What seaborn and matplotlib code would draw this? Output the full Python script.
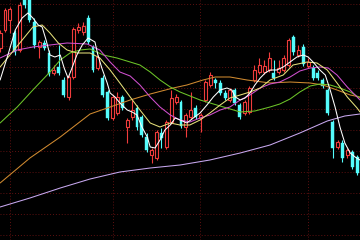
import numpy as np
import pandas as pd
import matplotlib
matplotlib.use("Agg")
import matplotlib.pyplot as plt
import seaborn as sns

# ---- candle data (price units) ----
opens = [29.2, 31.0, 32.0, 30.7, 29.0, 34.2, 34.0, 31.8, 29.3, 29.7,
         28.7, 26.7, 27.3, 26.0, 24.3, 26.3, 31.0, 30.8, 32.2, 29.3,
         27.2, 26.2, 24.8, 22.2, 22.7, 24.3, 21.3, 22.3, 23.2, 22.3,
         20.3, 18.5, 18.2, 20.7, 19.3, 21.8, 23.8, 23.8, 21.3, 22.3,
         23.2, 22.2, 24.0, 25.5, 26.0, 25.7, 24.7, 24.0, 25.0, 23.5,
         22.7, 22.8, 26.0, 26.8, 26.8, 27.0, 26.7, 26.8, 27.0, 27.5,
         30.3, 28.5, 29.3, 27.4, 27.2, 26.7, 26.0, 25.0, 21.8, 19.3,
         19.7, 18.5, 18.8, 18.3]
closes = [30.7, 33.0, 33.1, 28.8, 33.5, 33.5, 32.0, 29.5, 29.8, 29.2,
          26.6, 27.0, 26.7, 24.5, 26.3, 31.1, 31.3, 31.4, 29.8, 27.0,
          28.3, 24.5, 22.2, 24.3, 24.3, 23.2, 22.0, 23.0, 21.3, 20.5,
          19.0, 19.0, 20.8, 20.2, 21.8, 24.2, 24.3, 21.4, 22.5, 23.0,
          22.3, 22.5, 25.8, 26.5, 25.7, 24.7, 24.2, 25.0, 23.7, 22.3,
          23.8, 25.2, 27.0, 27.5, 27.4, 28.2, 26.2, 27.2, 28.2, 30.0,
          28.8, 29.0, 27.6, 27.8, 26.2, 26.2, 25.4, 22.7, 19.2, 19.8,
          18.2, 19.0, 17.3, 16.7]
highs = [31.0, 33.2, 33.3, 31.0, 33.8, 34.5, 34.3, 32.2, 30.0, 30.0,
         29.0, 27.5, 29.5, 26.3, 26.5, 31.3, 31.7, 31.8, 32.5, 29.5,
         28.5, 26.5, 25.0, 24.5, 24.8, 24.5, 22.2, 24.0, 23.5, 22.5,
         20.7, 19.2, 21.0, 21.2, 22.0, 25.0, 24.6, 24.0, 22.7, 24.8,
         23.5, 22.7, 26.0, 26.8, 26.2, 26.0, 25.0, 25.2, 25.2, 23.7,
         24.0, 25.4, 27.5, 28.2, 28.0, 28.8, 28.0, 28.0, 28.5, 30.2,
         30.5, 29.5, 29.6, 28.2, 27.5, 27.0, 26.2, 25.2, 22.0, 20.0,
         20.0, 19.2, 19.0, 18.5]
lows = [28.8, 30.8, 30.7, 28.5, 28.8, 33.2, 31.8, 29.2, 28.2, 29.0,
        26.4, 26.5, 26.5, 24.3, 24.0, 26.1, 30.7, 30.5, 29.6, 26.8,
        27.0, 24.3, 22.0, 22.0, 22.5, 23.0, 19.7, 22.0, 21.0, 20.3,
        18.8, 17.7, 18.0, 19.2, 19.1, 21.6, 23.6, 21.2, 20.3, 22.1,
        22.1, 20.8, 23.8, 25.3, 25.2, 24.5, 24.0, 23.8, 23.5, 22.1,
        22.5, 22.6, 25.8, 26.6, 26.6, 26.8, 26.0, 26.6, 26.8, 27.3,
        28.5, 28.3, 27.4, 27.2, 26.0, 26.0, 25.2, 22.5, 18.2, 19.1,
        17.8, 18.2, 17.1, 16.5]

# ---- moving average lines (x = candle index, y = price) ----
ma5_x = [0.0, 1.6, 3.1, 4.5, 5.7, 6.7, 7.8, 8.6, 9.4, 10.2, 11.2, 12.3, 13.1, 13.9,
         14.7, 15.7, 16.8, 18.0, 19.4, 20.0, 20.8, 21.9, 22.5, 23.5, 24.5, 26.0,
         27.0, 28.0, 29.0, 30.1, 30.7, 31.7, 32.7, 33.7, 34.8, 35.8, 36.8, 38.2,
         39.5, 40.9, 42.3, 43.6, 45.0, 46.4, 47.4, 48.1, 49.1, 50.1, 51.1, 52.1,
         53.2, 54.2, 55.2, 56.6, 57.9, 59.3, 60.7, 62.0, 63.0, 64.0, 65.4, 66.5,
         67.5, 68.5, 69.5, 70.5, 71.6, 72.6, 73.6]
ma5_y = [26.0, 28.5, 31.0, 32.2, 32.7, 32.2, 31.5, 31.3, 30.0, 28.5, 28.3, 28.5, 27.2, 26.2,
         27.2, 28.5, 29.5, 30.2, 29.8, 28.5, 27.2, 25.7, 24.7, 24.3, 23.7, 23.0,
         22.8, 22.5, 21.3, 20.3, 19.3, 19.2, 20.0, 21.0, 21.5, 22.2, 22.0, 21.7,
         22.2, 22.7, 23.5, 24.3, 25.0, 25.2, 25.0, 24.3, 24.0, 24.2, 24.7, 25.5,
         26.2, 26.7, 27.0, 27.0, 27.3, 27.8, 28.3, 28.5, 28.3, 27.8, 27.0, 26.5,
         25.0, 23.3, 21.3, 19.7, 18.7, 18.3, 18.0]
ma10_x = [0.0, 6.7, 8.6, 10.2, 11.9, 13.7, 15.7, 18.4, 20.4, 22.5, 24.5, 26.6, 28.6,
          30.7, 32.7, 34.8, 36.8, 38.8, 40.9, 42.9, 45.0, 47.0, 49.1, 51.1, 53.2,
          55.2, 57.9, 59.9, 62.8, 64.8, 66.9, 68.9, 71.0, 73.0, 73.6]
ma10_y = [27.3, 31.3, 31.5, 30.7, 29.7, 29.0, 28.7, 28.7, 28.2, 27.0, 25.7, 24.3, 23.0,
          21.7, 21.3, 21.7, 21.5, 21.5, 22.0, 22.7, 23.5, 24.2, 24.5, 24.8, 25.2,
          26.0, 26.5, 27.5, 27.8, 27.7, 27.0, 25.7, 24.3, 23.2, 22.8]
ma20_x = [0.0, 3.5, 6.7, 13.7, 17.8, 20.4, 22.5, 24.5, 26.6, 28.6, 30.7, 32.7, 34.8,
          36.8, 38.8, 40.9, 42.9, 45.0, 47.0, 49.1, 51.1, 53.2, 55.2, 57.2, 59.3,
          61.3, 63.4, 65.4, 67.1, 68.9, 71.0, 73.6]
ma20_y = [28.2, 29.0, 29.3, 29.7, 29.6, 29.0, 27.8, 26.8, 26.4, 25.5, 24.3, 23.3, 22.5,
          22.0, 21.8, 22.2, 22.5, 23.0, 23.3, 24.0, 24.5, 25.2, 25.6, 25.8, 26.3,
          26.9, 27.2, 27.3, 27.2, 26.5, 25.3, 24.0]
ma30_x = [0.0, 3.5, 6.7, 10.2, 12.3, 14.3, 16.4, 18.4, 21.1, 23.9, 26.6, 28.6, 30.7,
          32.7, 34.8, 36.8, 40.9, 45.0, 49.1, 52.1, 55.2, 57.2, 59.3, 61.3, 63.4,
          65.4, 67.5, 69.5, 71.6, 73.6]
ma30_y = [21.7, 23.3, 25.0, 26.8, 28.0, 28.7, 29.0, 29.1, 28.5, 28.2, 27.8, 27.5, 26.8,
          26.0, 25.3, 24.8, 24.0, 23.4, 22.8, 22.9, 23.3, 23.6, 24.1, 24.8, 25.4,
          25.6, 25.5, 25.2, 24.8, 24.2]
ma60_x = [0.0, 6.1, 12.3, 18.4, 22.5, 26.6, 30.7, 35.4, 38.2, 41.5, 44.0, 47.0, 50.5,
          55.2, 59.3, 63.4, 66.0, 68.9, 71.6, 73.6]
ma60_y = [15.7, 18.2, 20.3, 22.6, 23.3, 24.0, 24.6, 25.2, 25.5, 26.0, 26.3, 26.3, 26.0,
          25.7, 25.8, 25.7, 25.5, 25.0, 24.5, 24.3]
ma250_x = [0.0, 6.1, 12.3, 18.4, 24.5, 30.7, 36.8, 42.9, 49.1, 55.2, 61.3, 66.9, 70.5, 73.6]
ma250_y = [13.3, 14.2, 15.2, 16.1, 16.8, 17.2, 17.5, 18.0, 18.7, 19.5, 20.7, 21.9, 22.4, 22.6]

grid_x = [2.0, 23.1, 40.9, 63.0]

RED = "#f03c3c"
CYAN = "#54fcfc"

sns.set_style("dark", {"axes.facecolor": "black", "figure.facecolor": "black"})

fig = plt.figure(figsize=(3.6, 2.4), dpi=100)
ax = fig.add_axes([0, 0, 1, 1])
ax.set_facecolor("black")

o = np.array(opens); c = np.array(closes)
h = np.array(highs); l = np.array(lows)
idx = np.arange(len(o))
up = c >= o
body_lo = np.minimum(o, c)
body_h = np.maximum(np.abs(c - o), 0.12)

ax.vlines(idx[up], l[up], h[up], colors=RED, linewidth=0.8, zorder=2)
ax.vlines(idx[~up], l[~up], h[~up], colors=CYAN, linewidth=0.8, zorder=2)
ax.bar(idx[up], body_h[up], bottom=body_lo[up], width=0.6,
       facecolor="black", edgecolor=RED, linewidth=0.8, zorder=3)
ax.bar(idx[~up], body_h[~up], bottom=body_lo[~up], width=0.6,
       facecolor=CYAN, edgecolor=CYAN, linewidth=0.3, zorder=3)

lines = [
    (ma250_x, ma250_y, "#c8a8f0"),
    (ma60_x, ma60_y, "#d08a30"),
    (ma30_x, ma30_y, "#6cc428"),
    (ma20_x, ma20_y, "#d050d0"),
    (ma10_x, ma10_y, "#e6e07a"),
    (ma5_x, ma5_y, "#ffffff"),
]
for xs, ys, col in lines:
    df = pd.DataFrame({"x": xs, "y": ys})
    sns.lineplot(data=df, x="x", y="y", color=col, linewidth=0.75, ax=ax,
                 sort=False, zorder=4)

ax.set_xlim(-0.02, 73.6)
ax.set_ylim(10, 34)
ax.set_xticks(grid_x)
ax.set_yticks(np.arange(10.5, 34.0, 2.1))
ax.grid(True, color="#5e1010", linestyle=(0, (1, 2)), linewidth=0.7)
ax.set_axisbelow(True)
ax.tick_params(length=0, labelbottom=False, labelleft=False)
ax.set_xlabel(""); ax.set_ylabel("")
for s in ax.spines.values():
    s.set_visible(False)

fig.savefig("out.png", dpi=100, facecolor="black")
